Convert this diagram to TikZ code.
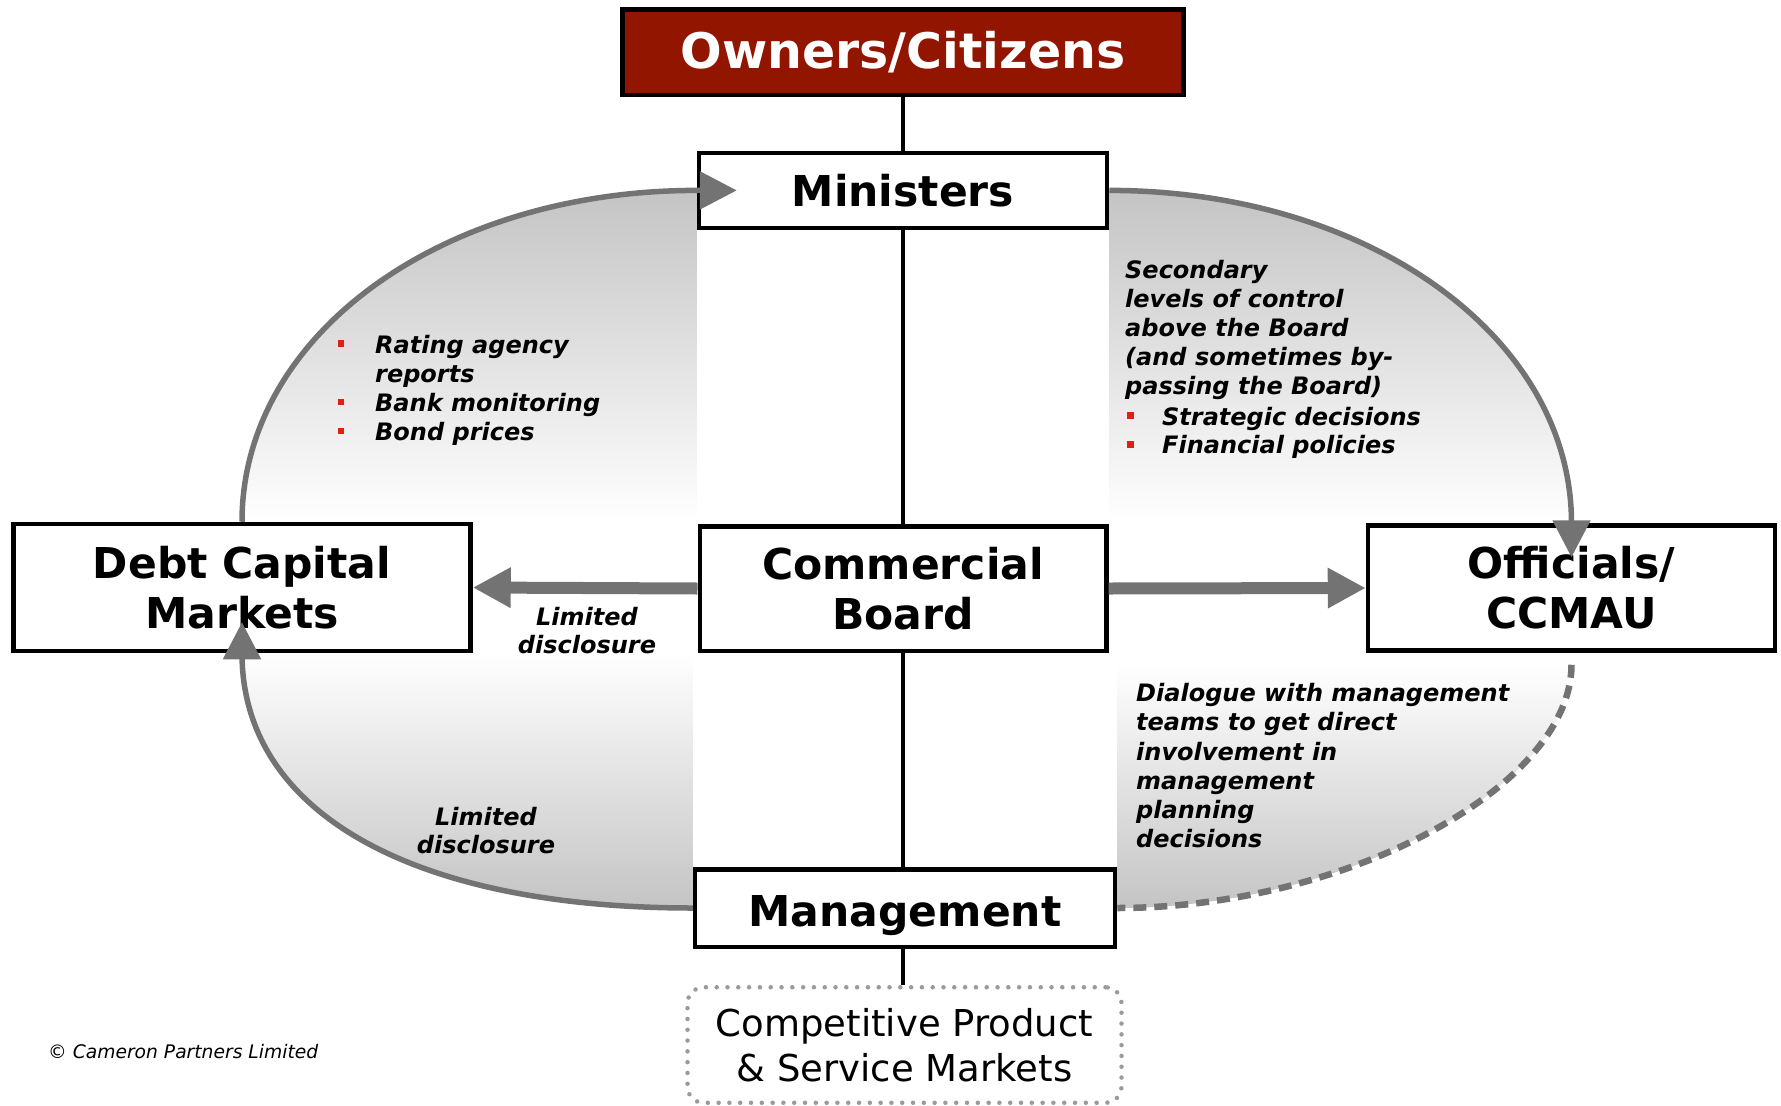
\documentclass[tikz,border=0pt]{standalone}
\usepackage{fontspec}
\setmainfont{DejaVu Sans}
\usetikzlibrary{arrows.meta,calc,backgrounds}
\definecolor{arrowgray}{HTML}{737373}
\definecolor{ownerred}{HTML}{921500}
\definecolor{bulletred}{HTML}{E02010}
\definecolor{dotgray}{HTML}{9A9A9A}
\definecolor{fillgray}{HTML}{C4C4C4}
\begin{document}
\begin{tikzpicture}[x=1pt,y=-1pt,
  box/.style={draw=black, line width=4.5pt, fill=white, inner sep=0pt, align=center,
    font=\fontsize{42.5}{50}\selectfont\bfseries},
  ital/.style={inner sep=0pt, anchor=base west, font=\fontsize{24}{29}\selectfont\bfseries\itshape},
  italc/.style={ital, anchor=base},
  bulletsq/.style={fill=bulletred, minimum size=6.5pt, inner sep=0pt},
  vline/.style={draw=black, line width=3.5pt},
  fat/.style={draw=arrowgray, line width=12pt, -{Triangle[length=38pt,width=38pt]}},
  arcline/.style={draw=arrowgray, line width=5.5pt},
  arcarrow/.style={arcline, -{Triangle[length=37pt,width=37pt]}},
]
\useasboundingbox (0,0) rectangle (1781,1106);

% boxes
\node[box, fill=ownerred, text=white, minimum width=561pt, minimum height=85.5pt,
  font=\fontsize{49}{58}\selectfont\bfseries] (owners) at (903,52.3) {Owners/Citizens};
\node[box, minimum width=408pt, minimum height=75pt] (ministers) at (903,190.4) {Ministers};
\node[box, minimum width=406.5pt, minimum height=124.5pt] (board) at (903,588.5) {Commercial\\Board};
\node[box, minimum width=457pt, minimum height=127pt] (debt) at (242,587.5) {Debt Capital\\Markets};
\node[box, minimum width=407pt, minimum height=125pt] (officials) at (1571.5,588) {Officials/\\CCMAU};
\node[box, minimum width=420pt, minimum height=77.5pt] (management) at (905,908)
  {\raisebox{-8pt}[\height][\depth]{Management}};
\node[draw=dotgray, line width=4.5pt, dash pattern=on 0pt off 10.8pt, line cap=round,
  rounded corners=16pt, minimum width=434pt, minimum height=115.5pt, align=center, inner sep=0pt,
  font=\fontsize{37}{45}\selectfont] (markets) at (904.5,1045)
  {Competitive Product\\\& Service Markets};

\coordinate (lrs) at ($(officials.south)+(0,12)$);

% shaded quadrants
\begin{scope}[on background layer]
\shade[top color=fillgray, bottom color=white]
  (debt.north) .. controls ($(debt.north)+(0,-187)$) and ($(ministers.west)+(-255,0)$) .. (ministers.west)
  -- (ministers.west |- debt.north) -- cycle;
\shade[top color=fillgray, bottom color=white]
  (ministers.east) .. controls ($(ministers.east)+(259,0)$) and ($(officials.north)+(0,-186.5)$) .. (officials.north)
  -- (ministers.east |- officials.north) -- cycle;
\shade[top color=white, bottom color=fillgray]
  (management.west) .. controls ($(management.west)+(-281,0)$) and ($(debt.south)+(0,159)$) .. (debt.south)
  -- (management.west |- debt.south) -- cycle;
\shade[top color=white, bottom color=fillgray]
  (lrs) .. controls ($(lrs)+(0,121.5)$) and ($(management.east)+(229,0)$) .. (management.east)
  -- (management.east |- lrs) -- cycle;
\end{scope}

% vertical connectors
\draw[vline] (owners) -- (ministers);
\draw[vline] (ministers) -- (board);
\draw[vline] (board.south) -- (board.south |- management.north);
\draw[vline] (board.south |- management.south) -- (board.south |- markets.north);

% horizontal arrows
\draw[fat] (board.west) -- (debt.east);
\draw[fat] (board.east) -- (officials.west);

% curved arrows
\draw[arcarrow] (debt.north) .. controls ($(debt.north)+(0,-187)$) and ($(ministers.west)+(-255,0)$) .. (ministers.west)
  -- ($(ministers.west)+(40,0)$);
\draw[arcarrow] (ministers.east) .. controls ($(ministers.east)+(259,0)$) and ($(officials.north)+(0,-186.5)$) .. (officials.north)
  -- ($(officials.north)+(0,34)$);
\draw[arcarrow] (management.west) .. controls ($(management.west)+(-281,0)$) and ($(debt.south)+(0,159)$) .. (debt.south)
  -- ($(debt.south)+(0,-31)$);
\draw[arcline, line width=6.5pt, dash pattern=on 13pt off 8pt] (lrs) .. controls ($(lrs)+(0,121.5)$) and ($(management.east)+(229,0)$) .. (management.east);

% upper-left texts
\node[ital] (ul1) at (375,353) {Rating agency};
\node[ital] (ul2) at (375,382) {reports};
\node[ital] (ul3) at (375,411.5) {Bank monitoring};
\node[ital] (ul4) at (375,440.5) {Bond prices};
\node[bulletsq] (bu1) at (341,343.5) {};
\node[bulletsq] (bu2) at (341,402) {};
\node[bulletsq] (bu3) at (341,431) {};

% upper-right texts
\node[ital] (ur1) at (1125,278.3) {Secondary};
\node[ital] (ur2) at (1125,307.5) {levels of control};
\node[ital] (ur3) at (1125,336.7) {above the Board};
\node[ital] (ur4) at (1125,365.7) {(and sometimes by-};
\node[ital] (ur5) at (1125,394.5) {passing the Board)};
\node[ital] (ur6) at (1162,425) {Strategic decisions};
\node[ital] (ur7) at (1162,453.5) {Financial policies};
\node[bulletsq] (bu4) at (1130.5,415.7) {};
\node[bulletsq] (bu5) at (1130.5,444.5) {};

% lower-right texts
\node[ital] (lr1) at (1136,701.7) {Dialogue with management};
\node[ital] (lr2) at (1136,730.7) {teams to get direct};
\node[ital] (lr3) at (1136,760) {involvement in};
\node[ital] (lr4) at (1136,789) {management};
\node[ital] (lr5) at (1136,818) {planning};
\node[ital] (lr6) at (1136,847.3) {decisions};

% limited disclosure labels
\node[italc] (ld1) at (587,625) {Limited};
\node[italc] (ld2) at (587,653.3) {disclosure};
\node[italc] (ld3) at (486,825) {Limited};
\node[italc] (ld4) at (486,853.3) {disclosure};

% copyright
\node[inner sep=0pt, anchor=base west, font=\fontsize{18.7}{22}\selectfont\itshape] (copy) at (48,1058) {© Cameron Partners Limited};
\end{tikzpicture}
\end{document}
